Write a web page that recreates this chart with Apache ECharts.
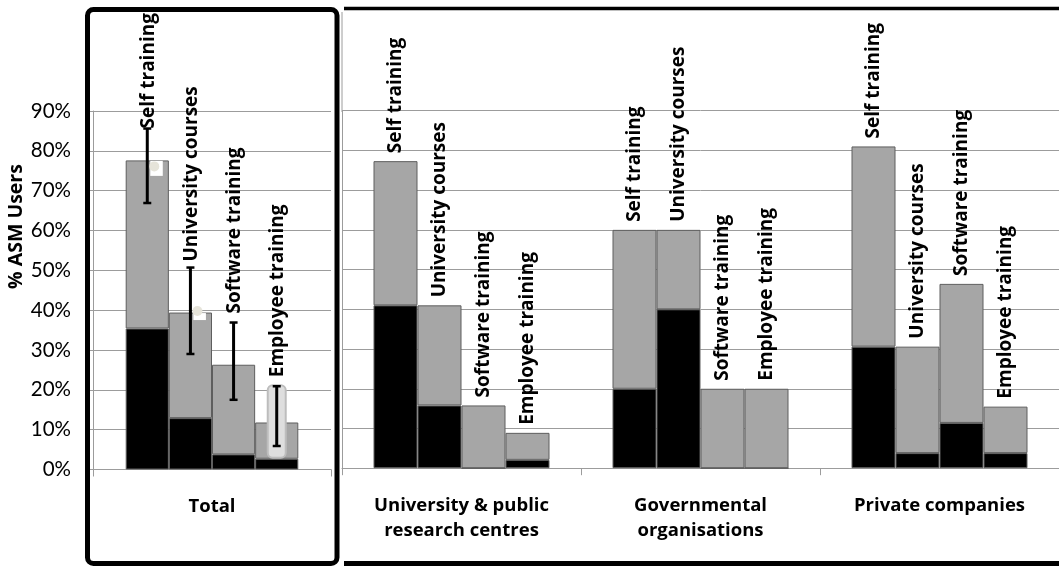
<!DOCTYPE html>
<html><head><meta charset="utf-8">
<script src="https://cdn.jsdelivr.net/npm/echarts@6/dist/echarts.min.js"></script>
<style>html,body{margin:0;padding:0;background:#fff}#c{width:1059px;height:566px}</style>
</head><body><div id="c"></div>
<script>
// ---- data ----
const trainingTypes = ['Self training', 'University courses', 'Software training', 'Employee training'];
const totalCategory = ['Total'];
const sectors = ['University & public\nresearch centres', 'Governmental\norganisations', 'Private companies'];
const yTickValues = [0, 0.1, 0.2, 0.3, 0.4, 0.5, 0.6, 0.7, 0.8, 0.9];

// Total group (one value per training type)
const totalAll   = [0.776, 0.394, 0.263, 0.118];
const totalBlack = [0.354, 0.129, 0.038, 0.027];
const totalErrLow  = [0.669, 0.290, 0.175, 0.059];
const totalErrHigh = [0.856, 0.507, 0.369, 0.209];

// Sectors (one value per sector), per training type
const selfAll   = [0.773, 0.600, 0.810];
const selfBlack = [0.410, 0.200, 0.306];
const univAll   = [0.410, 0.600, 0.306];
const univBlack = [0.158, 0.400, 0.038];
const softAll   = [0.158, 0.200, 0.464];
const softBlack = [0.000, 0.000, 0.114];
const empAll    = [0.089, 0.200, 0.155];
const empBlack  = [0.021, 0.000, 0.038];

// ---- styles ----
const FONT = 'Open Sans';
const TICK_FONT = 'Lato';
const GRID_C = '#9c9c9c';
const GRAY = '#a6a6a6';
const EDGE = '#5e5e5e';
const ROT_SIZE = 19;
const labelGapTotal = [0, 6, 9, 9];

const sectorAll = [selfAll, univAll, softAll, empAll];
const sectorBlack = [selfBlack, univBlack, softBlack, empBlack];

const chart = echarts.init(document.getElementById('c'), null, {renderer: 'canvas'});

const pct = v => Math.round(v * 100) + '%';

const yBase = {
  type: 'value', min: 0, max: 0.9, interval: 0.1
};

const series = [];
// left chart bars
series.push({
  type: 'bar', xAxisIndex: 1, yAxisIndex: 1, stack: 'tot', barWidth: '100%',
  data: totalBlack,
  itemStyle: {color: '#000', borderColor: EDGE, borderWidth: 1},
  silent: true
});
series.push({
  type: 'bar', xAxisIndex: 1, yAxisIndex: 1, stack: 'tot', barWidth: '100%',
  data: totalAll.map((v, i) => +(v - totalBlack[i]).toFixed(3)),
  itemStyle: {color: GRAY, borderColor: EDGE, borderWidth: 1},
  silent: true
});
// error bars + labels for Total
series.push({
  type: 'custom', xAxisIndex: 1, yAxisIndex: 1, silent: true, z: 5,
  data: trainingTypes.map((t, i) => [i, totalErrLow[i], totalErrHigh[i], totalAll[i], totalBlack[i]]),
  renderItem(params, api) {
    const i = api.value(0);
    const lo = api.coord([i, api.value(1)]);
    const hi = api.coord([i, api.value(2)]);
    const top = api.coord([i, api.value(3)]);
    const blk = api.coord([i, api.value(4)]);
    const x = lo[0];
    const ch = [];
    if (i === 0 || i === 1) {
      const h = i === 0 ? 15 : 7;
      ch.push({type: 'rect', shape: {x: x + 3, y: top[1] + 0.5, width: 12.5, height: h}, style: {fill: '#fff'}});
      ch.push({type: 'circle', shape: {cx: x + 7, cy: top[1] + (i === 0 ? 6 : -1.5), r: 5}, style: {fill: '#e6e4da'}});
    }
    if (i === 3) {
      ch.push({type: 'rect', shape: {x: x - 9, y: hi[1] - 1, width: 18, height: blk[1] - hi[1], r: 5},
        style: {fill: '#dedede', stroke: '#bdbdbd', lineWidth: 2}});
    }
    ch.push({type: 'line', shape: {x1: x, y1: hi[1], x2: x, y2: lo[1]}, style: {stroke: '#000', lineWidth: 3}});
    ch.push({type: 'line', shape: {x1: x - 4, y1: hi[1], x2: x + 4, y2: hi[1]}, style: {stroke: '#000', lineWidth: 2.5}});
    ch.push({type: 'line', shape: {x1: x - 4, y1: lo[1], x2: x + 4, y2: lo[1]}, style: {stroke: '#000', lineWidth: 2.5}});
    ch.push({type: 'text', x: x + 1, y: hi[1] - labelGapTotal[i], rotation: Math.PI / 2,
      style: {text: trainingTypes[i], fill: '#000', font: 'bold ' + ROT_SIZE + 'px "' + FONT + '"', align: 'left', verticalAlign: 'middle'}});
    return {type: 'group', children: ch};
  }
});
// right chart bars
trainingTypes.forEach((t, k) => {
  series.push({
    type: 'bar', xAxisIndex: 2, yAxisIndex: 2, stack: 's' + k, barWidth: 44, barGap: '0%',
    data: sectorBlack[k],
    itemStyle: {color: '#000', borderColor: EDGE, borderWidth: 1},
    silent: true
  });
  series.push({
    type: 'bar', xAxisIndex: 2, yAxisIndex: 2, stack: 's' + k, barWidth: 44, barGap: '0%',
    data: sectorAll[k].map((v, i) => +(v - sectorBlack[k][i]).toFixed(3)),
    itemStyle: {color: GRAY, borderColor: EDGE, borderWidth: 1},
    label: {
      show: true, position: 'top', distance: 8, rotate: 90, align: 'left', verticalAlign: 'middle',
      formatter: () => t, color: '#000', fontFamily: FONT, fontWeight: 'bold', fontSize: ROT_SIZE
    },
    silent: true
  });
});

const catLabel = {color: '#000', fontFamily: FONT, fontWeight: 'bold', fontSize: 18.5, margin: 25, lineHeight: 25};

chart.setOption({
  animation: false,
  backgroundColor: '#fff',
  grid: [
    {left: 93, top: 111, width: 238, height: 358.5},
    {left: 125.7, top: 111, width: 172.6, height: 358.5},
    {left: 342, top: 110.7, width: 723, height: 357.5}
  ],
  xAxis: [
    {type: 'category', gridIndex: 0, data: totalCategory,
      axisLine: {lineStyle: {color: GRID_C, width: 1}},
      axisTick: {show: true, length: 7, lineStyle: {color: GRID_C}},
      axisLabel: catLabel},
    {type: 'category', gridIndex: 1, data: trainingTypes, show: false},
    {type: 'category', gridIndex: 2, data: sectors,
      axisLine: {lineStyle: {color: GRID_C, width: 1}},
      axisTick: {show: true, length: 7, lineStyle: {color: GRID_C}},
      axisLabel: catLabel}
  ],
  yAxis: [
    Object.assign({}, yBase, {gridIndex: 0,
      axisLine: {show: true, lineStyle: {color: GRID_C}},
      axisTick: {show: true, length: 6, lineStyle: {color: GRID_C}},
      splitLine: {show: true, lineStyle: {color: GRID_C}},
      axisLabel: {formatter: v => pct(v), color: '#000', fontFamily: TICK_FONT, fontSize: 20.5, margin: 22,
        customValues: yTickValues}}),
    Object.assign({}, yBase, {gridIndex: 1, show: false, splitLine: {show: false}}),
    Object.assign({}, yBase, {gridIndex: 2,
      axisLine: {show: true, lineStyle: {color: GRID_C}},
      axisTick: {show: false},
      splitLine: {show: true, lineStyle: {color: GRID_C}},
      axisLabel: {show: false}})
  ],
  series: series,
  graphic: [
    {type: 'text', x: 16.5, y: 226.5, rotation: Math.PI / 2,
      style: {text: '% ASM Users', fill: '#000', font: 'bold 19.5px "' + FONT + '"', align: 'center', verticalAlign: 'middle'}},
    {type: 'line', shape: {x1: 342, y1: 12, x2: 342, y2: 112}, style: {stroke: GRID_C, lineWidth: 1}},
    {type: 'rect', shape: {x: 87.5, y: 9.5, width: 249.5, height: 554, r: 6},
      style: {fill: 'none', stroke: '#000', lineWidth: 5}, z: 100},
    {type: 'line', shape: {x1: 344, y1: 8.5, x2: 1059, y2: 8.5}, style: {stroke: '#000', lineWidth: 3.5}, z: 100},
    {type: 'line', shape: {x1: 344, y1: 563.5, x2: 1059, y2: 563.5}, style: {stroke: '#000', lineWidth: 5}, z: 100}
  ]
});
</script></body></html>
